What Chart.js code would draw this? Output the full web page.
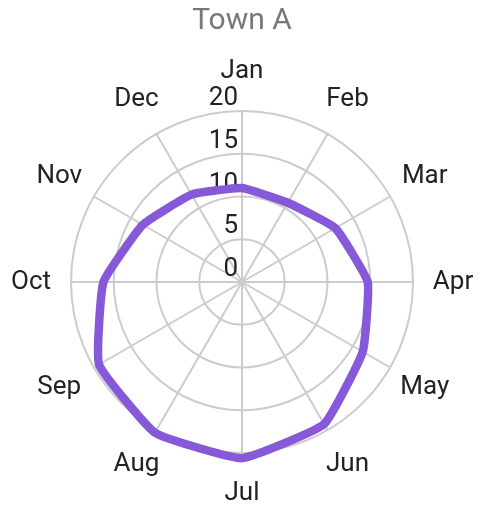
<!DOCTYPE html>
<html>
<head>
<meta charset="utf-8">
<script src="https://cdn.jsdelivr.net/npm/chart.js@4.4.1/dist/chart.umd.min.js"></script>
<style>
  html, body { margin: 0; padding: 0; background: #fff; }
  #chartBox { width: 482px; height: 517px; }
</style>
</head>
<body>
<div id="chartBox"><canvas id="chart"></canvas></div>
<script>
const months = ['Jan', 'Feb', 'Mar', 'Apr', 'May', 'Jun', 'Jul', 'Aug', 'Sep', 'Oct', 'Nov', 'Dec'];
const townA = [11.0, 10.7, 12.6, 14.7, 16.3, 19.2, 20.6, 20.35, 19.3, 16.2, 13.4, 11.8];
const tickValues = [0, 5, 10, 15, 20];

// month labels centred past the spoke ends, tick numbers right-aligned just above each ring
const radialLabels = {
  id: 'radialLabels',
  beforeDatasetsDraw(chart) {
    const scale = chart.scales.r;
    const ctx = chart.ctx;
    ctx.save();
    ctx.font = '26px Roboto';
    ctx.fillStyle = '#222';
    ctx.textAlign = 'center';
    ctx.textBaseline = 'middle';
    months.forEach((m, i) => {
      const p = scale.getPointPosition(i, scale.drawingArea + 40);
      ctx.fillText(m, p.x, p.y);
    });
    ctx.textAlign = 'right';
    ctx.textBaseline = 'alphabetic';
    tickValues.forEach(v => {
      const d = scale.getDistanceFromCenterForValue(v);
      ctx.fillText(String(v), scale.xCenter - 4, scale.yCenter - d - 6);
    });
    ctx.restore();
  }
};

Chart.defaults.font.family = 'Roboto';

new Chart(document.getElementById('chart').getContext('2d'), {
  type: 'radar',
  data: {
    labels: months,
    datasets: [{
      label: 'Town A',
      data: townA,
      borderColor: '#8559d7',
      borderWidth: 8.5,
      pointRadius: 0,
      pointHoverRadius: 0,
      fill: false,
      tension: 0.12,
      clip: false
    }]
  },
  options: {
    responsive: true,
    maintainAspectRatio: false,
    animation: false,
    layout: { padding: { left: 71, right: 69, top: 0, bottom: 53 } },
    plugins: {
      legend: { display: false },
      tooltip: { enabled: false },
      title: {
        display: true,
        text: 'Town A',
        color: '#777',
        font: { size: 30, weight: 'normal' },
        padding: { top: 3, bottom: 61 }
      }
    },
    scales: {
      r: {
        min: 0,
        max: 20,
        ticks: { stepSize: 5, display: false },
        pointLabels: { display: false },
        grid: { circular: true, color: '#cccccc', lineWidth: 2 },
        angleLines: { color: '#cccccc', lineWidth: 2 }
      }
    }
  },
  plugins: [radialLabels]
});
</script>
</body>
</html>
